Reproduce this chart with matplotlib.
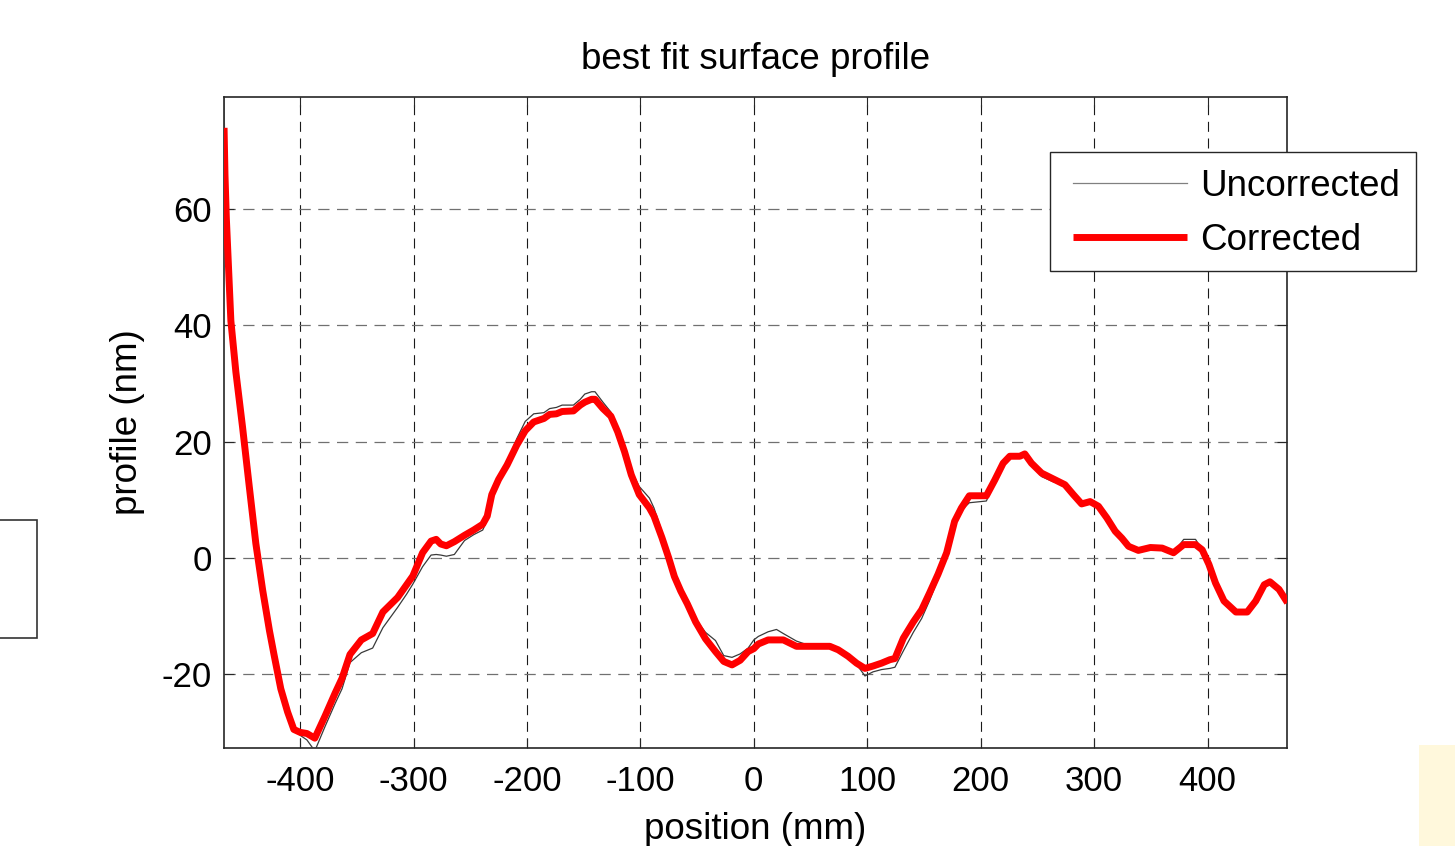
import matplotlib.pyplot as plt
import matplotlib.patches as patches

# Positionen (mm) und Profilwerte (nm)
position = [-467, -466.2, -465, -461, -456.6, -450.7, -444.9, -439, -433, -427, -423, -417, -411, -405.5,
            -400, -394, -387, -378, -369, -363, -356, -346, -336, -327, -314, -306, -300.6, -292,
            -284.5, -280, -276, -271, -264, -255, -247, -239, -235, -231, -225, -217.5, -209, -201.5,
            -194, -185, -180, -174, -169, -159, -153, -149, -143, -140, -133, -126, -120, -114, -108,
            -101, -92, -88, -81, -75, -70, -64.4, -58.6, -51.3, -42.6, -33.8, -26.5, -19.2, -12, -5,
            0, 4, 12.6, 20, 26, 37.6, 48, 67, 74.4, 83, 90.6, 98, 105, 112.6, 120, 124.4, 131.8,
            140.6, 148, 155, 162.4, 170, 177, 183, 190, 205, 212.4, 219.8, 225.7, 234.5, 238.9,
            244.8, 253.7, 264, 274.3, 281.7, 289, 296.5, 303.8, 311.2, 318.6, 324.5, 330.4, 339,
            349.6, 360, 370, 379, 389.4, 395.3, 401.2, 407, 414.5, 425, 435, 442.5, 450, 455, 463,
            470.5]

corrected = [74, 66, 58.5, 40.8, 32, 22.5, 12.5, 2.5, -5.5, -12.5, -16.6, -22.5, -26.5, -29.5,
             -30, -30.2, -31.0, -27.2, -23.2, -20.7, -16.6, -14.1, -13, -9.3, -6.8, -4.6, -3.1, 0.9,
             2.9, 3.2, 2.4, 2.1, 2.8, 3.9, 4.8, 5.8, 7.2, 10.9, 13.5, 16.0, 19.4, 21.9,
             23.4, 24, 24.7, 24.8, 25.2, 25.3, 26.3, 26.8, 27.3, 27.3, 25.7, 24.4, 21.7, 18.3, 14.3,
             10.9, 8.6, 7.2, 3.5, 0.0, -3.2, -5.7, -7.9, -11, -13.9, -16.1, -17.8, -18.4, -17.6, -16.1,
             -15.6, -14.8, -14.1, -14.1, -14.1, -15.2, -15.2, -15.2, -15.8, -16.9, -18.1, -19.0, -18.6, -18.1, -17.5, -17.3, -13.8,
             -11, -8.9, -6.0, -2.8, 0.9, 6.3, 8.6, 10.7, 10.7, 13.4, 16.3, 17.5, 17.5, 17.9,
             16.3, 14.6, 13.6, 12.6, 10.9, 9.3, 9.7, 8.9, 6.9, 4.6, 3.4, 2.0, 1.3,
             1.8, 1.7, 0.9, 2.3, 2.3, 1.4, -1.1, -4.3, -7.4, -9.3, -9.3, -7.4, -4.6, -4.1, -5.4,
             -7.7]

uncorrected = [79, 67, 59, 41, 32, 22.5, 12.5, 2.5, -5.5, -12.5, -16.6, -22.5, -26.5, -29.5,
               -30.5, -31.3, -33.2, -29, -25, -22.5, -18, -16.3, -15.5, -12, -8.5, -6.2, -4.5, -1.5,
               0.5, 0.6, 0.5, 0.3, 0.6, 3.0, 4.0, 4.8, 6.5, 10.5, 13.5, 16.5, 20.5, 23.5,
               24.8, 25, 25.7, 25.9, 26.3, 26.3, 27.3, 28.2, 28.6, 28.6, 26.8, 25.1, 22.2, 18.8, 15.0,
               12.3, 10.3, 8.6, 4.5, 0.6, -2.8, -5.5, -7.7, -10.5, -12.8, -14.2, -16.8, -17.1, -16.5, -15.5,
               -14.1, -13.5, -12.7, -12.3, -13.0, -14.3, -15.0, -15.2, -15.8, -16.9, -18.3, -20.3, -19.6, -19.2, -19, -18.8, -16,
               -12.8, -10.4, -7.3, -3.6, 0.3, 6, 8.2, 9.5, 9.8, 13, 16.3, 17.5, 17.5, 17.9,
               16.0, 14.0, 13.1, 12.6, 10.9, 9.3, 9.7, 8.9, 6.9, 4.6, 3.4, 2.0, 1.3,
               1.8, 1.7, 0.9, 3.2, 3.2, 1.4, -1.1, -4.3, -7.4, -9.3, -9.3, -7.4, -4.6, -4.1, -5.4,
               -7.7]

x_ticks = [-400, -300, -200, -100, 0, 100, 200, 300, 400]
y_ticks = [-20, 0, 20, 40, 60]

plt.rcParams['font.family'] = ['Liberation Sans', 'DejaVu Sans']
plt.rcParams['axes.unicode_minus'] = False

fig = plt.figure(figsize=(14.55, 8.46), dpi=100)
ax = fig.add_axes([0.154, 0.1158, 0.7305, 0.7695])

# Kurven: erst unkorrigiert (dünn), dann korrigiert (dick, rot)
ax.plot(position, uncorrected, color='#3a3a3a', linewidth=0.9, label='Uncorrected', zorder=3)
ax.plot(position, corrected, color='#ff0000', linewidth=5.0, label='Corrected', zorder=4,
        solid_joinstyle='round', solid_capstyle='butt')

ax.set_xlim(-467, 470)
ax.set_ylim(-32.7, 79.3)
ax.set_xticks(x_ticks)
ax.set_yticks(y_ticks)

# Gitter im MATLAB-Stil
ax.xaxis.grid(True, color='#1a1a1a', linestyle=(0, (9, 6)), linewidth=0.8)
ax.yaxis.grid(True, color='#707070', linestyle=(0, (9, 6)), linewidth=0.9)
ax.set_axisbelow(True)

ax.tick_params(direction='in', length=7, width=0.8, top=True, right=True, labelsize=25,
               colors='#262626', labelcolor='black')
ax.tick_params(axis='x', pad=12)
ax.tick_params(axis='y', pad=9)
for spine in ax.spines.values():
    spine.set_linewidth(1.2)
    spine.set_color('#262626')

ax.set_title('best fit surface profile', fontsize=26.5, pad=20)
ax.set_xlabel('position (mm)', fontsize=26.5, labelpad=10)
ax.set_ylabel('profile (nm)', fontsize=26.5, labelpad=12)

# Legende ohne eigenen Rahmen, Rahmen separat gezeichnet (passt besser zur Vorlage)
leg = ax.legend(loc='upper left', bbox_to_anchor=(1073 / 1455, 1 - 169 / 846),
                bbox_transform=fig.transFigure, borderaxespad=0, borderpad=0, fontsize=26.5,
                handlelength=3.1, handletextpad=0.36, labelspacing=0.52, frameon=False)
leg.get_lines()[0].set_color('#808080')
leg.set_zorder(6)
ax.add_patch(patches.Rectangle((1050 / 1455, 1 - 271 / 846), 366 / 1455, 119 / 846,
                               transform=fig.transFigure, clip_on=False, facecolor='white',
                               edgecolor='#262626', linewidth=1.0, zorder=5))

# Reste vom Screenshot: Kasten links, gelbe Fläche rechts unten
fig.patches.append(patches.Rectangle((-0.01, 1 - 638 / 846), 37 / 1455 + 0.01, 118 / 846,
                                     transform=fig.transFigure, fill=False,
                                     edgecolor='#333333', linewidth=1.2))
fig.patches.append(patches.Rectangle((1419 / 1455, 0), 36 / 1455, 101 / 846,
                                     transform=fig.transFigure, facecolor='#fff8dc',
                                     edgecolor='none'))

plt.savefig('out.png', dpi=100)
